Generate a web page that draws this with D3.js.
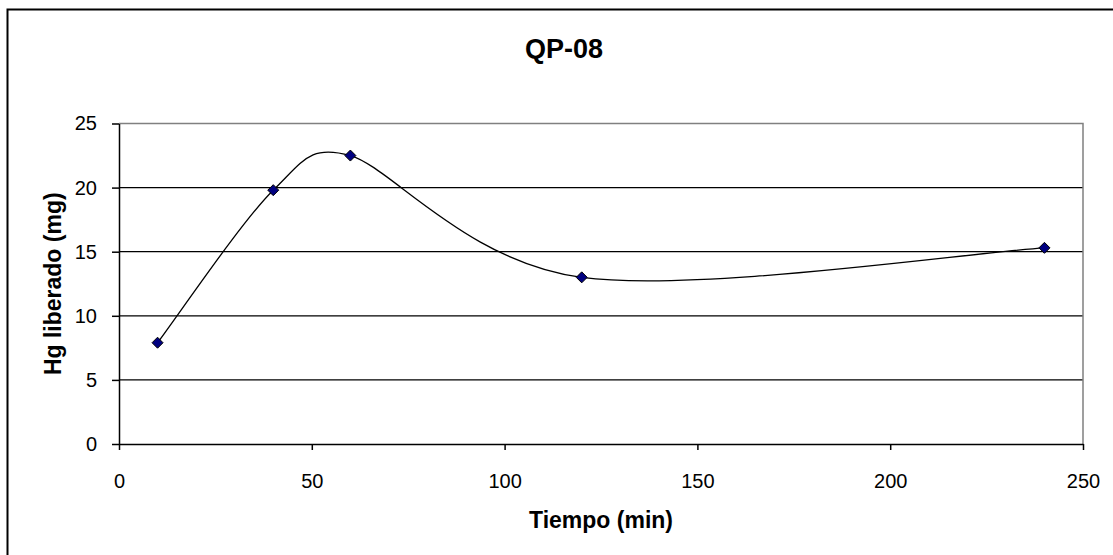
<!DOCTYPE html>
<html>
<head>
<meta charset="utf-8">
<script src="https://cdn.jsdelivr.net/npm/d3@7"></script>
<style>
  body { margin: 0; background: #fff; }
  text { font-family: "Liberation Sans", Arial, sans-serif; fill: #000; }
</style>
</head>
<body>
<svg id="chart" width="1113" height="555"></svg>
<script>
const tiempo = [10, 40, 60, 120, 240];
const hgLiberado = [7.9, 19.8, 22.5, 13.0, 15.3];
const xTicks = [0, 50, 100, 150, 200, 250];
const yTicks = [0, 5, 10, 15, 20, 25];
const title = "QP-08";
const xTitle = "Tiempo (min)";
const yTitle = "Hg liberado (mg)";

const svg = d3.select("#chart");
const margin = { left: 119, top: 123.5, right: 1083, bottom: 444 };
const font = '"Liberation Sans", Arial, sans-serif';

// Excel-like smoothing: bezier, tangent (next - prev)/6, clamped to half the shorter neighbouring segment
function excelCurve(context) {
  let pts = [];
  return {
    areaStart() {}, areaEnd() {},
    lineStart() { pts = []; },
    point(x, y) { pts.push([+x, +y]); },
    lineEnd() {
      const n = pts.length;
      if (!n) return;
      const dist = (a, b) => Math.hypot(b[0] - a[0], b[1] - a[1]);
      const tan = pts.map((p, i) => {
        const a = pts[Math.max(i - 1, 0)], b = pts[Math.min(i + 1, n - 1)];
        const d = dist(a, b);
        if (!d) return [0, 0];
        const segs = [dist(a, p), dist(p, b)].filter(s => s > 0);
        let f = 1 / 6;
        const half = Math.min(...segs) / 2;
        if (d / 6 > half) f = half / d;
        return [(b[0] - a[0]) * f, (b[1] - a[1]) * f];
      });
      context.moveTo(pts[0][0], pts[0][1]);
      for (let i = 0; i < n - 1; i++) {
        const p = pts[i], q = pts[i + 1];
        context.bezierCurveTo(p[0] + tan[i][0], p[1] + tan[i][1],
                              q[0] - tan[i + 1][0], q[1] - tan[i + 1][1], q[0], q[1]);
      }
    }
  };
}

// outer chart frame (runs off the right and bottom edges)
svg.append("rect")
    .attr("x", 7.5).attr("y", 9.5)
    .attr("width", 1200).attr("height", 600)
    .attr("fill", "none").attr("stroke", "#000").attr("stroke-width", 2);

const x = d3.scaleLinear().domain([0, 250]).range([margin.left, margin.right]);
const y = d3.scaleLinear().domain([0, 25]).range([margin.bottom, margin.top]);

// gridlines
svg.append("g").selectAll("line")
    .data(yTicks.filter(d => d > 0 && d < 25))
    .enter().append("line")
    .attr("x1", margin.left).attr("x2", margin.right)
    .attr("y1", d => y(d)).attr("y2", d => y(d))
    .attr("stroke", "#000").attr("stroke-width", 1.3);

// plot area border: grey top/right
svg.append("path")
    .attr("d", `M${margin.left},${y(25)}H${margin.right}V${margin.bottom}`)
    .attr("fill", "none").attr("stroke", "#808080").attr("stroke-width", 1.5);

// axes
const xAxis = svg.append("g")
    .attr("transform", `translate(0,${margin.bottom})`)
    .call(d3.axisBottom(x).tickValues(xTicks).tickSize(6).tickPadding(24).tickSizeOuter(0));
const yAxis = svg.append("g")
    .attr("transform", `translate(${margin.left},0)`)
    .call(d3.axisLeft(y).tickValues(yTicks).tickSize(7).tickPadding(15).tickSizeOuter(0));
[xAxis, yAxis].forEach(g => {
  g.select(".domain").attr("stroke", "#000").attr("stroke-width", 1.5);
  g.selectAll(".tick line").attr("stroke", "#000").attr("stroke-width", 1.5);
  g.selectAll(".tick text")
      .style("font-family", font)
      .style("font-size", "20px").attr("fill", "#000");
});

// smoothed line
const line = d3.line()
    .x((d, i) => x(tiempo[i]))
    .y(d => y(d))
    .curve(excelCurve);
svg.append("path")
    .datum(hgLiberado)
    .attr("d", line)
    .attr("fill", "none").attr("stroke", "#000").attr("stroke-width", 1.3);

// diamond markers
svg.append("g").selectAll("path")
    .data(hgLiberado)
    .enter().append("path")
    .attr("transform", (d, i) => `translate(${x(tiempo[i])},${y(d)})`)
    .attr("d", "M0,-5.5L5.5,0L0,5.5L-5.5,0Z")
    .attr("fill", "#000080").attr("stroke", "#000").attr("stroke-width", 1);

// titles
svg.append("text")
    .attr("x", 564).attr("y", 57.5)
    .attr("text-anchor", "middle")
    .style("font-family", font)
    .style("font-size", "27px").style("font-weight", "bold")
    .text(title);
svg.append("text")
    .attr("x", (margin.left + margin.right) / 2).attr("y", 528)
    .attr("text-anchor", "middle")
    .style("font-family", font)
    .style("font-size", "23px").style("font-weight", "bold")
    .text(xTitle);
svg.append("text")
    .attr("transform", `translate(61,${(margin.top + margin.bottom) / 2}) rotate(-90)`)
    .attr("text-anchor", "middle")
    .style("font-family", font)
    .style("font-size", "23px").style("font-weight", "bold")
    .text(yTitle);
</script>
</body>
</html>
